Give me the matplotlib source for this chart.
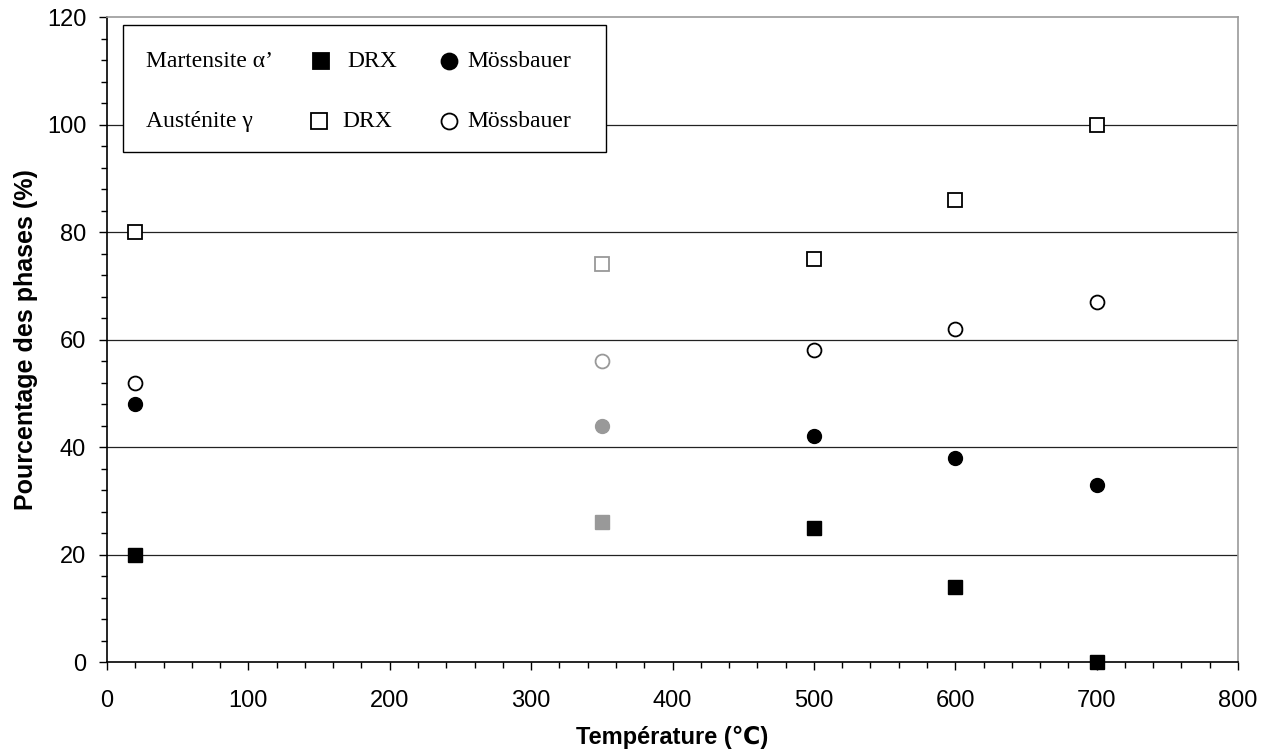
import matplotlib
matplotlib.use('Agg')
import matplotlib.pyplot as plt
from matplotlib.patches import Rectangle
from matplotlib.ticker import MultipleLocator

# Data.
temperatures = [20, 350, 500, 600, 700]
martensite_drx = [20, 26, 25, 14, 0]
martensite_moss = [48, 44, 42, 38, 33]
austenite_drx = [80, 74, 75, 86, 100]
austenite_moss = [52, 56, 58, 62, 67]
# The 350 °C points are drawn in grey.
point_colors = ['black', '#999999', 'black', 'black', 'black']

x_ticks = [0, 100, 200, 300, 400, 500, 600, 700, 800]
y_ticks = [0, 20, 40, 60, 80, 100, 120]

plt.rcParams['font.family'] = ['Liberation Sans', 'DejaVu Sans']

fig = plt.figure(figsize=(12.69, 7.56), dpi=100)
ax = fig.add_axes([0.0843, 0.1243, 0.8913, 0.8532])

ax.set_xlim(0, 800)
ax.set_ylim(0, 120)
ax.set_xticks(x_ticks)
ax.set_yticks(y_ticks)
ax.xaxis.set_minor_locator(MultipleLocator(20))
ax.yaxis.set_minor_locator(MultipleLocator(4))
ax.tick_params(axis='both', which='major', labelsize=17, length=6, width=1, direction='out')
ax.tick_params(axis='x', which='major', pad=14)
ax.tick_params(axis='y', which='major', pad=9)
ax.tick_params(axis='both', which='minor', length=4, width=1, direction='out')
ax.tick_params(axis='x', which='both', top=False)
ax.tick_params(axis='y', which='both', right=False)

# Horizontal grid at major y ticks.
for yv in y_ticks[1:-1]:
    ax.axhline(yv, color='#222222', lw=0.9, zorder=1)

ax.spines['left'].set_color('black')
ax.spines['bottom'].set_color('black')
ax.spines['right'].set_color('#999999')
ax.spines['top'].set_color('#999999')
for s in ax.spines.values():
    s.set_linewidth(1.2)

ms = 10
for t, v, c in zip(temperatures, martensite_drx, point_colors):
    ax.plot(t, v, marker='s', ms=ms, color=c, mec=c, ls='none', zorder=3, clip_on=False)
for t, v, c in zip(temperatures, martensite_moss, point_colors):
    ax.plot(t, v, marker='o', ms=ms, color=c, mec=c, ls='none', zorder=3, clip_on=False)
for t, v, c in zip(temperatures, austenite_drx, point_colors):
    ax.plot(t, v, marker='s', ms=ms, mfc='white', mec=c, mew=1.3, ls='none', zorder=3, clip_on=False)
for t, v, c in zip(temperatures, austenite_moss, point_colors):
    ax.plot(t, v, marker='o', ms=ms, mfc='white', mec=c, mew=1.3, ls='none', zorder=3, clip_on=False)

ax.set_xlabel('Température (℃)', fontsize=17, fontweight='bold', labelpad=10)
ax.set_ylabel('Pourcentage des phases (%)', fontsize=18, fontweight='bold', labelpad=6)

# Hand-built legend box in axes coordinates.
def ax_xy(px, py):
    # convert figure pixel position to axes fraction
    return ((px - 107) / (1238 - 107), (662 - py) / (662 - 17))

x0, y0 = ax_xy(123, 152)
x1, y1 = ax_xy(606, 25)
ax.add_patch(Rectangle((x0, y0), x1 - x0, y1 - y0, transform=ax.transAxes,
                       facecolor='white', edgecolor='black', lw=1.0, zorder=5))
serif = ['Liberation Serif', 'DejaVu Serif']
lms = 11.5
rows = [('Martensite α’', 'black', 61, 321, 347), ('Austénite γ', 'white', 121, 319, 342)]
for label, fill, py, sq_x, drx_x in rows:
    tx, ty = ax_xy(146, py)
    ax.text(tx, ty, label, transform=ax.transAxes, family=serif, fontsize=17,
            va='center', ha='left', zorder=6)
    sx, sy = ax_xy(sq_x, py)
    ax.plot(sx, sy, marker='s', ms=lms, mfc=fill, mec='black', mew=1.3,
            transform=ax.transAxes, zorder=6, clip_on=False)
    dx, dy = ax_xy(drx_x, py)
    ax.text(dx, dy, 'DRX', transform=ax.transAxes, family=serif, fontsize=17,
            va='center', ha='left', zorder=6)
    cx, cy = ax_xy(449, py)
    ax.plot(cx, cy, marker='o', ms=lms, mfc=fill, mec='black', mew=1.3,
            transform=ax.transAxes, zorder=6, clip_on=False)
    mx, my = ax_xy(467, py)
    ax.text(mx, my, 'Mössbauer', transform=ax.transAxes, family=serif, fontsize=17,
            va='center', ha='left', zorder=6)

plt.savefig('out.png', dpi=100)
plt.close(fig)
